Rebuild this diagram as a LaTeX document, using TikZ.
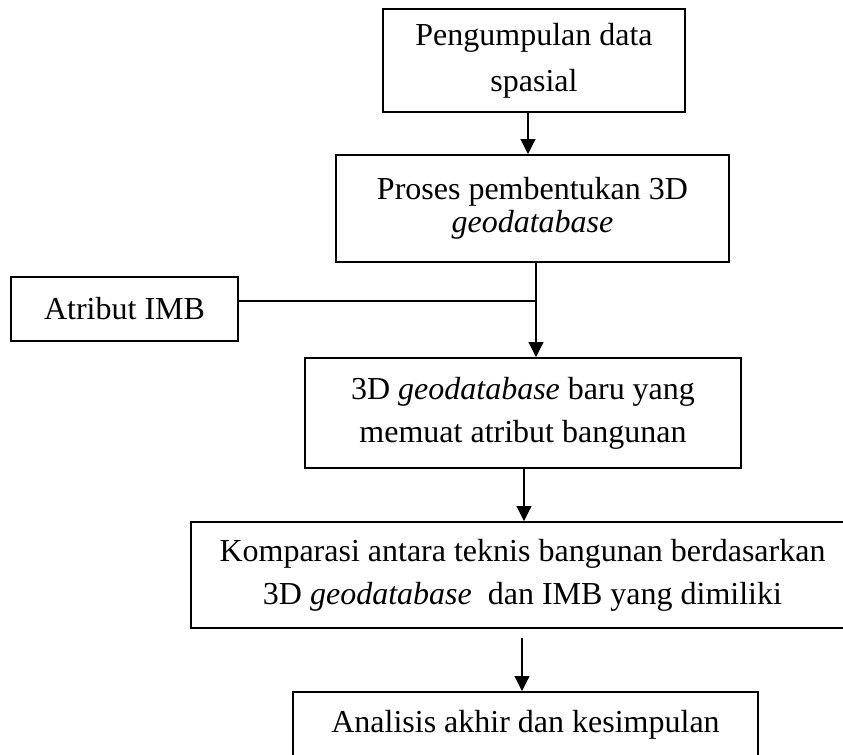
\documentclass[tikz,border=0pt]{standalone}
\usepackage{fontspec}
\setmainfont{Liberation Serif}
\usetikzlibrary{arrows.meta}

\begin{document}
\begin{tikzpicture}[x=0.5pt, y=-0.5pt,
    kotak/.style={draw, line width=1pt, align=center, inner sep=0pt},
    panah/.style={line width=0.6pt, -{Triangle[width=7.5pt, length=7.5pt]}}]
  \useasboundingbox (0,0) rectangle (843,755);

  % Kotak-kotak alur
  \node[kotak, minimum width=151pt, minimum height=51.5pt, font=\fontsize{16}{23}\selectfont]
    (kumpul) at (534,60.5) {Pengumpulan data\\spasial};
  \node[kotak, minimum width=196.5pt, minimum height=53.5pt, font=\fontsize{16}{16.5}\selectfont]
    (proses) at (532.5,208.5) {Proses pembentukan 3D\\\textit{geodatabase}};
  \node[kotak, minimum width=113.5pt, minimum height=32pt, font=\fontsize{16}{19}\selectfont]
    (imb) at (124.5,309) {Atribut IMB};
  \node[kotak, minimum width=218pt, minimum height=55pt, font=\fontsize{16}{21.5}\selectfont]
    (baru) at (523,413) {3D \textit{geodatabase} baru yang\\memuat atribut bangunan};
  \node[kotak, minimum width=331.5pt, minimum height=53pt, font=\fontsize{16}{21.5}\selectfont]
    (komparasi) at (522.5,575) {Komparasi antara teknis bangunan berdasarkan\\3D \textit{geodatabase}~ dan IMB yang dimiliki};
  \node[kotak, minimum width=232.5pt, minimum height=32.5pt, font=\fontsize{16}{19}\selectfont]
    (akhir) at (525.5,724.5) {Analisis akhir dan kesimpulan};

  % Titik bantu garis
  \coordinate (j1) at (528,130);
  \coordinate (j2) at (536,301);
  \coordinate (j3) at (524,490);
  \coordinate (j4) at (522,660);

  % Garis penghubung
  \draw[panah] (kumpul.south -| j1) -- (proses.north -| j1);
  \draw[panah] (proses.south -| j2) -- (baru.north -| j2);
  \draw[line width=0.6pt] (imb.east |- j2) -- (j2);
  \draw[panah] (baru.south -| j3) -- (komparasi.north -| j3);
  \draw[panah, shorten <=4.5pt] (komparasi.south -| j4) -- (akhir.north -| j4);

\end{tikzpicture}
\end{document}
